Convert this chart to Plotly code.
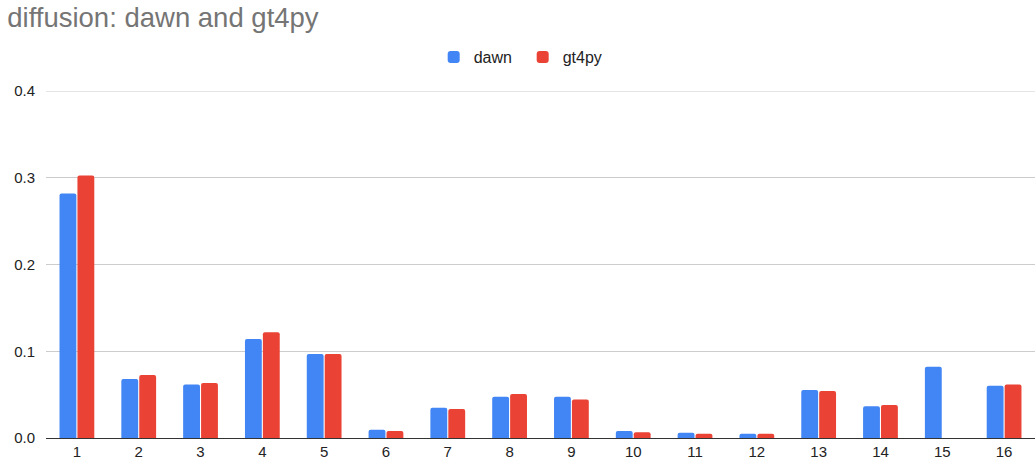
import plotly.graph_objects as go

categories = [str(i) for i in range(1, 17)]
dawn = [0.2818, 0.068, 0.0618, 0.1142, 0.0969, 0.0096, 0.035, 0.0476,
        0.0476, 0.0081, 0.0061, 0.005, 0.0554, 0.0365, 0.0822, 0.0603]
gt4py = [0.3025, 0.0727, 0.0634, 0.1218, 0.0969, 0.0081, 0.0334, 0.0507,
         0.0445, 0.0065, 0.005, 0.005, 0.0542, 0.038, None, 0.0618]
y_ticks = [0.0, 0.1, 0.2, 0.3, 0.4]
y_tick_labels = ["0.0", "0.1", "0.2", "0.3", "0.4"]

FONT = "Arial, Liberation Sans, sans-serif"

fig = go.Figure()
fig.add_trace(go.Bar(name="dawn", x=categories, y=dawn,
                     marker=dict(color="#4285F4", line=dict(width=0))))
fig.add_trace(go.Bar(name="gt4py", x=categories, y=gt4py,
                     marker=dict(color="#EA4335", line=dict(width=0))))

# top gridline sits on the edge of the plot area, so draw it explicitly
fig.add_shape(type="line", xref="paper", yref="y", x0=0, x1=1,
              y0=y_ticks[-1], y1=y_ticks[-1], layer="below",
              line=dict(color="#cccccc", width=1))

fig.update_layout(
    width=1035, height=464,
    paper_bgcolor="white", plot_bgcolor="white",
    font=dict(family=FONT, color="#222222", size=15),
    title=dict(text="diffusion: dawn and gt4py", x=0.007, xanchor="left",
               y=0.983, yanchor="top",
               font=dict(size=27.5, color="#757575", family=FONT)),
    margin=dict(l=46, r=0, t=91, b=26),
    barmode="group", bargap=0.42, bargroupgap=0.06,
    barcornerradius=2,
    showlegend=True,
    legend=dict(orientation="h", x=0.392, xanchor="left", y=1.098, yanchor="middle",
                font=dict(size=16, color="#222222", family=FONT),
                entrywidth=44, traceorder="normal"),
    xaxis=dict(showgrid=False, showline=True, linecolor="#333333", linewidth=1,
               ticks="", tickfont=dict(size=15, color="#222222")),
    yaxis=dict(range=[0, 0.4], tickvals=y_ticks, ticktext=y_tick_labels,
               showgrid=True, gridcolor="#cccccc", gridwidth=1,
               zeroline=False, ticks="", ticklabelstandoff=10,
               tickfont=dict(size=15, color="#222222")),
)

fig.write_html("out.html")
